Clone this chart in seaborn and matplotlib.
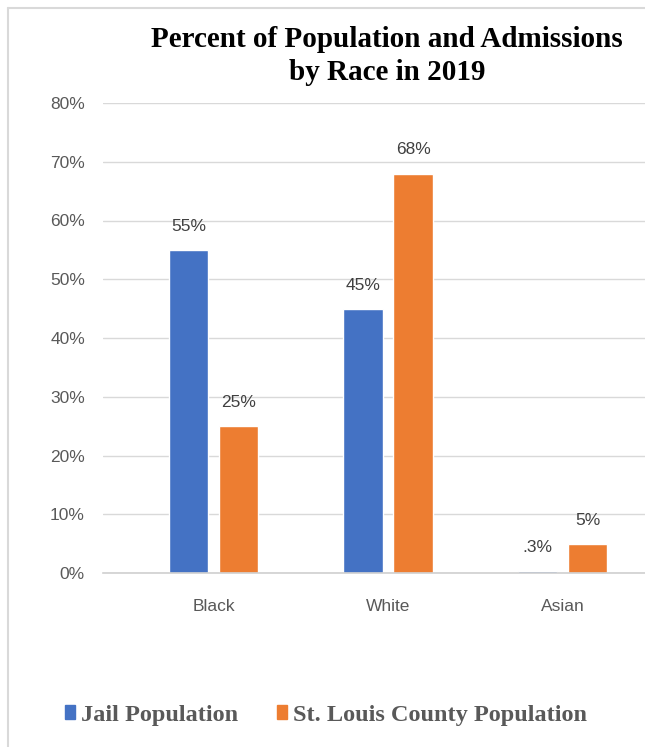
import matplotlib
matplotlib.use("Agg")
import matplotlib.pyplot as plt
import seaborn as sns
import pandas as pd
from matplotlib.patches import Rectangle
from matplotlib.lines import Line2D

categories = ["Black", "White", "Asian"]
series_names = ["Jail Population", "St. Louis County Population"]
jail_values = [55, 45, 0.3]
county_values = [25, 68, 5]
jail_labels = ["55%", "45%", ".3%"]
county_labels = ["25%", "68%", "5%"]
y_ticks = [0, 10, 20, 30, 40, 50, 60, 70, 80]
title = "Percent of Population and Admissions\nby Race in 2019"

colors = ["#4472C4", "#ED7D31"]

df = pd.DataFrame({
    "Race": categories * 2,
    "Series": [series_names[0]] * 3 + [series_names[1]] * 3,
    "Value": jail_values + county_values,
})

sns.set_theme(style="white")
plt.rcParams["font.family"] = ["Liberation Sans", "DejaVu Sans"]

W, H = 645, 747
fig = plt.figure(figsize=(W / 100, H / 100), dpi=100)
ax = fig.add_axes([103 / W, 174 / H, (645 - 103) / W, 470 / H])

sns.barplot(data=df, x="Race", y="Value", hue="Series", order=categories,
            hue_order=series_names, palette=colors, width=0.573, gap=0.21,
            saturation=1, ax=ax, legend=False)

ax.set_xlim(-0.634, 2.472)
ax.set_ylim(0, 80)
ax.set_yticks(y_ticks)
ax.set_yticklabels([f"{t}%" for t in y_ticks], fontsize=12.5, color="#595959")
ax.tick_params(axis="y", length=0, pad=13)
ax.tick_params(axis="x", length=0, pad=19, labelsize=12.5, labelcolor="#595959")
ax.set_xlabel("")
ax.set_ylabel("")
ax.grid(axis="y", color="#d9d9d9", linewidth=1)
ax.set_axisbelow(True)
for s in ["top", "right", "left"]:
    ax.spines[s].set_visible(False)
ax.spines["bottom"].set_color("#d0d0d0")
ax.spines["bottom"].set_linewidth(1.2)

all_labels = [jail_labels, county_labels]
for container, labels in zip(ax.containers, all_labels):
    for bar, lab in zip(container, labels):
        ax.annotate(lab, (bar.get_x() + bar.get_width() / 2, bar.get_height()),
                    xytext=(0, 17), textcoords="offset points",
                    ha="center", va="center", fontsize=12.5, color="#404040")

fig.text(387 / W, 1 - 56 / H, title, ha="center", va="center",
         fontsize=21, fontweight="bold", family=["Liberation Serif", "DejaVu Serif"],
         color="black", linespacing=1.25)

# legend
handles = [Rectangle((0, 0), 1, 1, color=c) for c in colors]
fig.legend(handles, series_names, loc="center", bbox_to_anchor=(326 / W, 1 - 715 / H),
           ncol=2, frameon=False, handlelength=0.42, handleheight=0.55,
           handletextpad=0.25, columnspacing=1.6,
           prop={"family": ["Liberation Serif", "DejaVu Serif"], "weight": "bold", "size": 17.5},
           labelcolor="#595959")

# chart frame (left and top edges visible; right/bottom cropped)
fig.add_artist(Line2D([8 / W, 8 / W], [0, 1 - 8 / H], transform=fig.transFigure,
                      color="#d9d9d9", linewidth=1.5))
fig.add_artist(Line2D([8 / W, 1], [1 - 8 / H, 1 - 8 / H], transform=fig.transFigure,
                      color="#d9d9d9", linewidth=1.5))

fig.savefig("out.png", dpi=100)
